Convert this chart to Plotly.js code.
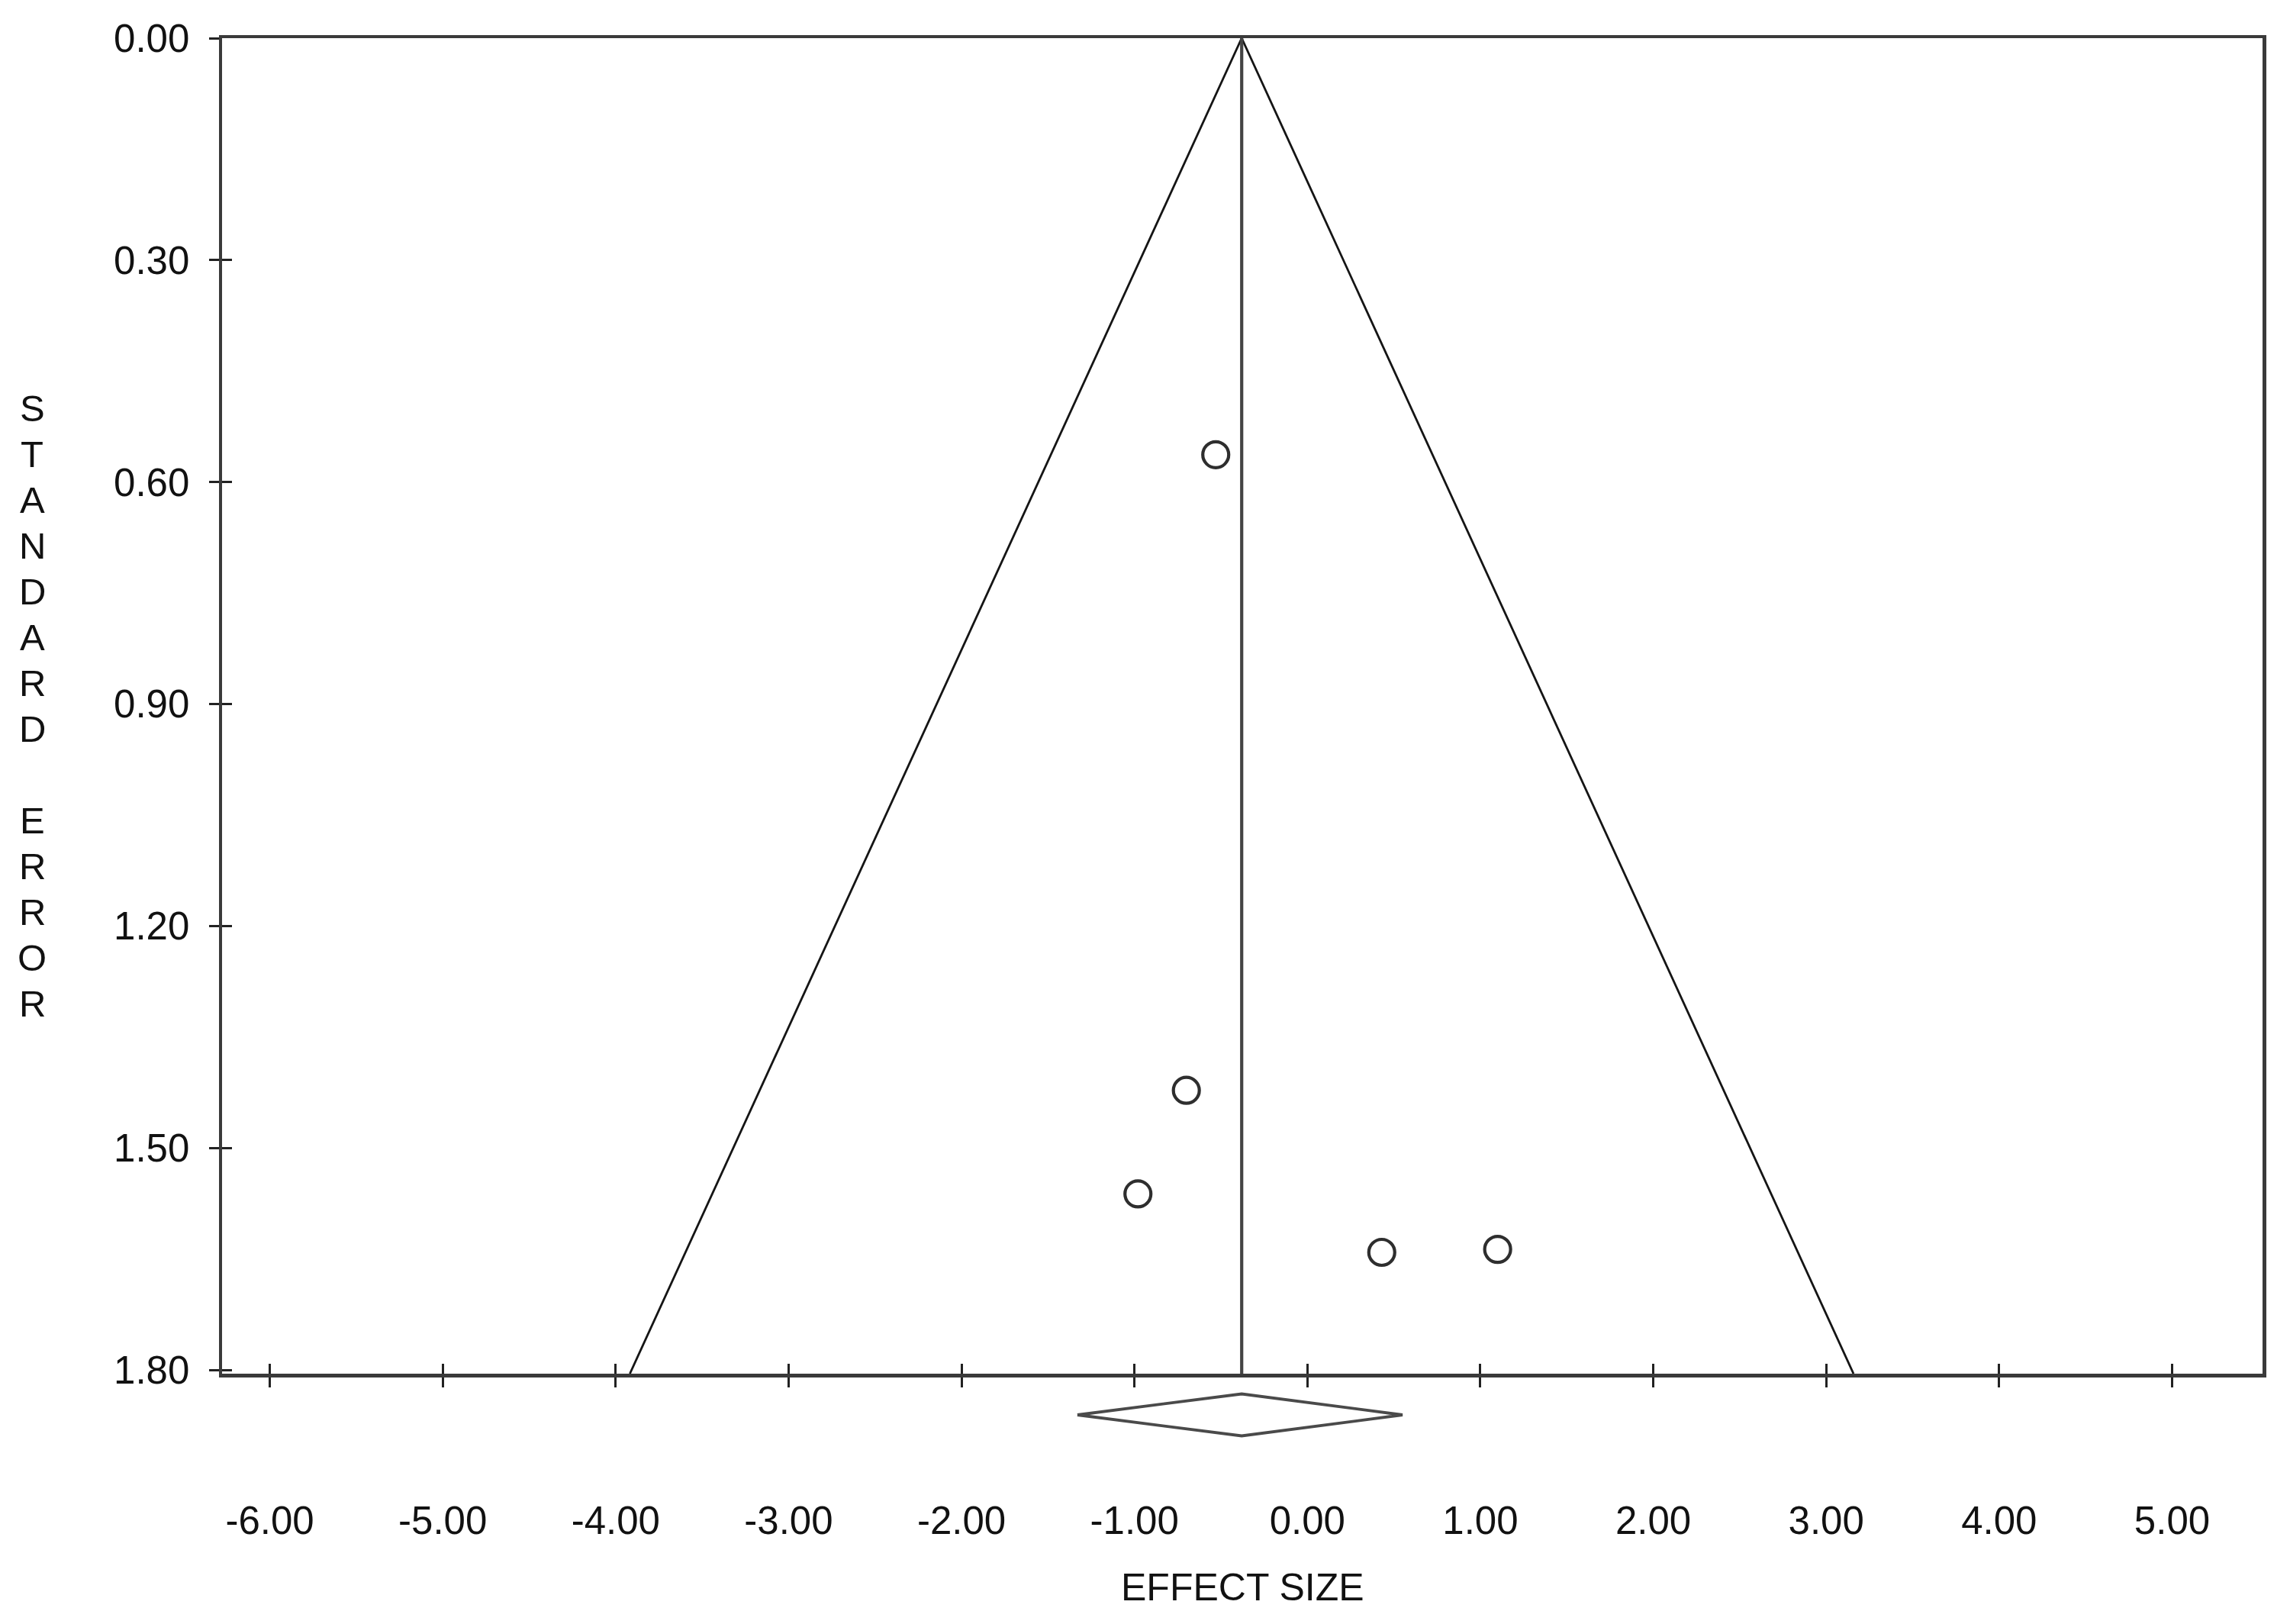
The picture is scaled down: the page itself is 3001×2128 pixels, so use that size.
<!DOCTYPE html>
<html>
<head>
<meta charset="utf-8">
<script src="https://cdn.plot.ly/plotly-3.0.1.min.js"></script>
<style>html,body{margin:0;padding:0;background:#fff}</style>
</head>
<body>
<div id="chart" style="width:3001px;height:2128px"></div>
<script>
// ---- data ----
const effectSizes    = [-0.53, -0.70, -0.98, 0.43, 1.10];
const standardErrors = [0.563, 1.422, 1.562, 1.641, 1.637];
const pooledEffect = -0.38;
const pooledLower  = -1.33;
const pooledUpper  = 0.55;
const seMax = 1.805;
const zCrit = 1.96;
const xTickValues = [-6, -5, -4, -3, -2, -1, 0, 1, 2, 3, 4, 5];
const xTickLabels = ['-6.00', '-5.00', '-4.00', '-3.00', '-2.00', '-1.00', '0.00', '1.00', '2.00', '3.00', '4.00', '5.00'];
const yTickValues = [0, 0.3, 0.6, 0.9, 1.2, 1.5, 1.8];
const yTickLabels = ['0.00', '0.30', '0.60', '0.90', '1.20', '1.50', '1.80'];
const xTitle = 'EFFECT SIZE';
const yTitle = 'STANDARD ERROR';
const xRange = [-6.276, 5.523];

// ---- layout geometry ----
const W = 3001, H = 2128;
const M = {l: 291, r: 36, t: 50, b: 228};
const plotH = H - M.t - M.b;          // paper height in px
const mainBottomPx = 1800;            // x-axis line
const paperBottomPx = H - M.b;
const mainDomLo = (paperBottomPx - mainBottomPx) / plotH;
const pyPaper = px => (paperBottomPx - px) / plotH;

const font = 'Liberation Sans, Arial, Helvetica, sans-serif';
const frameColor = '#3a3a3a';
const tickColor = '#222';

const traces = [
  // funnel (pseudo 95% limits)
  {
    x: [pooledEffect - zCrit * seMax, pooledEffect, pooledEffect + zCrit * seMax],
    y: [seMax, 0, seMax],
    mode: 'lines', line: {color: '#151515', width: 2.8},
    xaxis: 'x', yaxis: 'y', hoverinfo: 'skip', showlegend: false
  },
  // pooled effect vertical line
  {
    x: [pooledEffect, pooledEffect],
    y: [0, seMax],
    mode: 'lines', line: {color: '#444', width: 4.2},
    xaxis: 'x', yaxis: 'y', hoverinfo: 'skip', showlegend: false
  },
  // studies
  {
    x: effectSizes, y: standardErrors,
    mode: 'markers',
    marker: {symbol: 'circle', size: 34, color: '#ffffff', line: {color: '#2e2e2e', width: 4.2}},
    xaxis: 'x', yaxis: 'y', showlegend: false
  },
  // helpers so the inner tick axes are drawn
  {x: [pooledEffect], y: [0], mode: 'markers', marker: {opacity: 0}, xaxis: 'x2', yaxis: 'y', hoverinfo: 'skip', showlegend: false},
  {x: [pooledEffect], y: [0], mode: 'markers', marker: {opacity: 0}, xaxis: 'x', yaxis: 'y2', hoverinfo: 'skip', showlegend: false},
  // pooled-effect diamond
  {
    x: [pooledLower, pooledEffect, pooledUpper, pooledEffect, pooledLower],
    y: [0, 1, 0, -1, 0],
    mode: 'lines', fill: 'toself', fillcolor: '#ffffff',
    line: {color: '#4a4a4a', width: 3.8},
    xaxis: 'x3', yaxis: 'y3', hoverinfo: 'skip', showlegend: false
  }
];

const annotations = [];
const letters = yTitle.split('');
const letterStep = 60, letterCenterPx = 925;
letters.forEach((ch, i) => {
  if (ch === ' ') return;
  annotations.push({
    text: ch, xref: 'paper', yref: 'paper',
    x: 0, xshift: 42 - M.l, xanchor: 'center',
    y: pyPaper(letterCenterPx + (i - (letters.length - 1) / 2) * letterStep), yanchor: 'middle',
    showarrow: false, font: {family: font, size: 49, color: '#111'}
  });
});
annotations.push({
  text: xTitle, xref: 'paper', yref: 'paper',
  x: 0.5, xanchor: 'center', y: pyPaper(2080), yanchor: 'middle',
  showarrow: false, font: {family: font, size: 50, color: '#111'}
});

const layout = {
  width: W, height: H,
  margin: M,
  paper_bgcolor: '#fff', plot_bgcolor: '#fff',
  showlegend: false,
  font: {family: font, color: '#111'},
  xaxis: {
    domain: [0, 1], anchor: 'y', range: xRange,
    tickvals: xTickValues, ticktext: xTickLabels,
    ticks: 'outside', ticklen: 13, tickwidth: 3, tickcolor: tickColor,
    ticklabelstandoff: 131,
    tickfont: {family: font, size: 51, color: '#111'},
    showline: true, linecolor: frameColor, linewidth: 4.5, mirror: true,
    showgrid: false, zeroline: false, fixedrange: true
  },
  xaxis2: {
    overlaying: 'x', anchor: 'y', side: 'bottom', range: xRange,
    tickvals: xTickValues, ticks: 'inside', ticklen: 13, tickwidth: 3, tickcolor: tickColor,
    showticklabels: false, showline: false, showgrid: false, zeroline: false
  },
  yaxis: {
    domain: [mainDomLo, 1], anchor: 'x', range: [seMax, 0],
    tickvals: yTickValues, ticktext: yTickLabels,
    ticks: 'outside', ticklen: 13, tickwidth: 3, tickcolor: tickColor,
    ticklabelstandoff: 15,
    tickfont: {family: font, size: 51, color: '#111'},
    showline: true, linecolor: frameColor, linewidth: 4.5, mirror: true,
    showgrid: false, zeroline: false, fixedrange: true
  },
  yaxis2: {
    overlaying: 'y', anchor: 'x', side: 'left', range: [seMax, 0],
    tickvals: yTickValues, ticks: 'inside', ticklen: 13, tickwidth: 3, tickcolor: tickColor,
    showticklabels: false, showline: false, showgrid: false, zeroline: false
  },
  xaxis3: {domain: [0, 1], anchor: 'y3', range: xRange, visible: false, fixedrange: true},
  yaxis3: {domain: [0, mainDomLo], anchor: 'x3', range: [-1.673, 1.964], visible: false, fixedrange: true},
  annotations: annotations
};

Plotly.newPlot('chart', traces, layout, {displayModeBar: false, staticPlot: true});
</script>
</body>
</html>
